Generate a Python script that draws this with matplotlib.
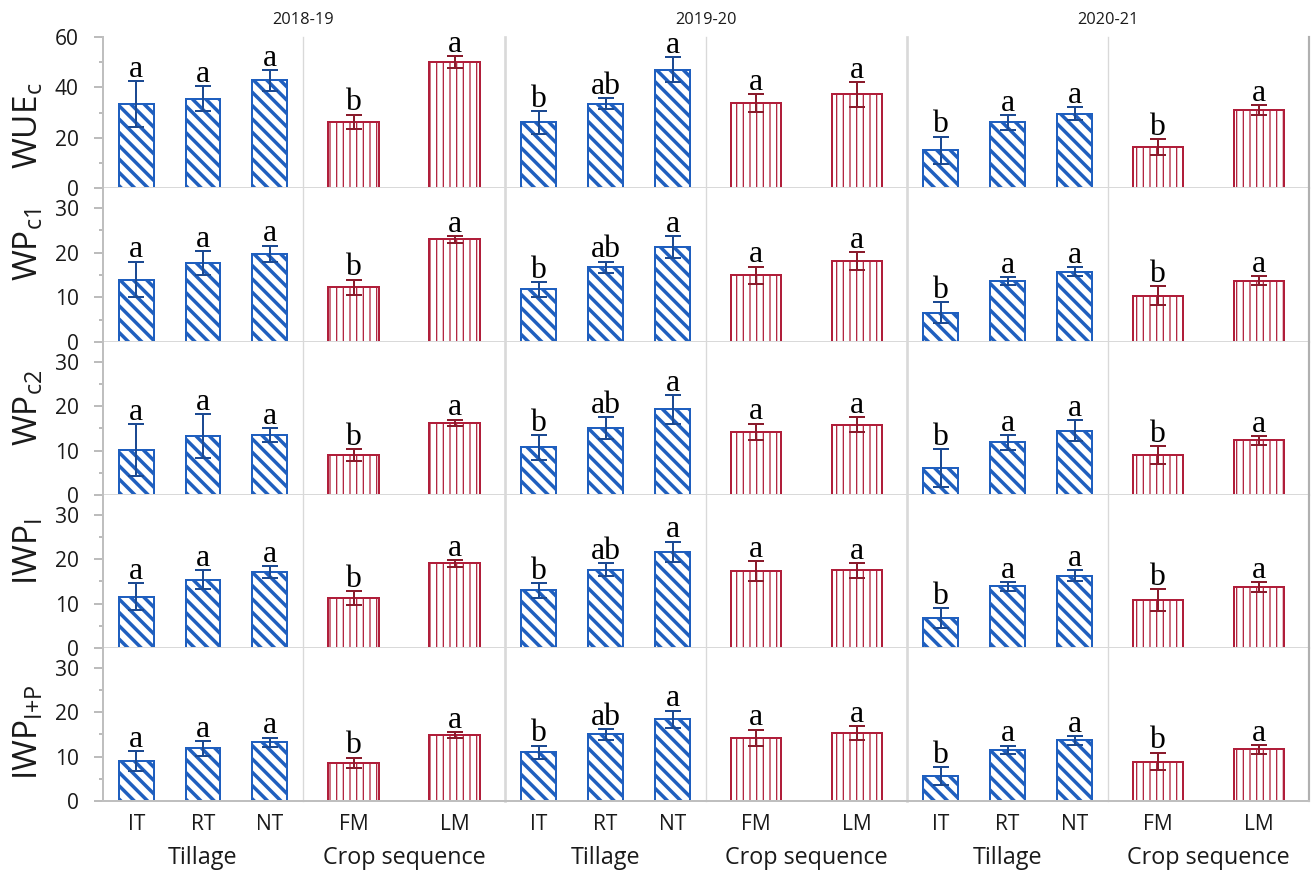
import matplotlib
matplotlib.use("Agg")
from matplotlib import pyplot as plt
from matplotlib.ticker import MultipleLocator

plt.rcParams['font.family'] = ['Open Sans', 'DejaVu Sans']

years = ['2018-19', '2019-20', '2020-21']
tillage = ['IT', 'RT', 'NT']
crop_seq = ['FM', 'LM']
row_labels = ['WUE$_\\mathregular{c}$', 'WP$_\\mathregular{c1}$', 'WP$_\\mathregular{c2}$',
              'IWP$_\\mathregular{I}$', 'IWP$_\\mathregular{I{+}P}$']

# per season: IT, RT, NT, FM, LM
wue_c = [[33.4, 35.5, 42.8, 26.4, 50.0],
         [26.1, 33.5, 47.0, 33.8, 37.2],
         [15.0, 26.1, 29.5, 16.3, 31.0]]
wue_c_err = [[9.0, 5.1, 4.1, 2.8, 2.3],
             [4.5, 2.2, 5.0, 3.6, 5.0],
             [5.4, 2.9, 2.5, 3.2, 2.0]]

wp_c1 = [[14.0, 17.7, 19.8, 12.3, 23.0],
         [11.8, 16.7, 21.3, 15.0, 18.1],
         [6.6, 13.7, 15.7, 10.4, 13.7]]
wp_c1_err = [[4.0, 2.7, 1.8, 1.7, 0.8],
             [1.7, 1.3, 2.4, 1.9, 2.0],
             [2.3, 0.9, 1.0, 2.2, 1.0]]

wp_c2 = [[10.1, 13.3, 13.5, 9.0, 16.3],
         [10.8, 15.1, 19.3, 14.3, 15.8],
         [6.0, 11.9, 14.5, 9.1, 12.3]]
wp_c2_err = [[5.9, 5.0, 1.5, 1.3, 0.7],
             [2.8, 2.4, 3.2, 1.8, 1.7],
             [4.3, 1.7, 2.3, 2.0, 1.0]]

iwp_i = [[11.6, 15.4, 17.1, 11.2, 19.1],
         [13.0, 17.7, 21.7, 17.4, 17.5],
         [6.7, 13.9, 16.3, 10.8, 13.7]]
iwp_i_err = [[3.0, 2.2, 1.3, 1.6, 0.8],
             [1.7, 1.5, 2.3, 2.2, 1.7],
             [2.3, 1.0, 1.2, 2.4, 1.1]]

iwp_ip = [[9.0, 11.9, 13.2, 8.6, 14.9],
          [11.0, 15.0, 18.4, 14.3, 15.3],
          [5.7, 11.6, 13.7, 8.9, 11.7]]
iwp_ip_err = [[2.3, 1.7, 1.1, 1.2, 0.6],
              [1.5, 1.2, 2.0, 1.8, 1.6],
              [2.0, 0.9, 1.0, 2.0, 1.0]]

# mean separation letters, same in every panel row
letters = [['a', 'a', 'a', 'b', 'a'],
           ['b', 'ab', 'a', 'a', 'a'],
           ['b', 'a', 'a', 'b', 'a']]

BLUE = '#1f5fbf'
BLUE_ERR = '#1c4a92'
RED = '#b01e3a'
RED_ERR = '#8a1b2c'
GRID = '#d9d9d9'
AXIS = '#bfbfbf'

rows = [(wue_c, wue_c_err), (wp_c1, wp_c1_err), (wp_c2, wp_c2_err),
        (iwp_i, iwp_i_err), (iwp_ip, iwp_ip_err)]
ytop = [60, 34.5, 34.5, 34.5, 34.5]
ystep = [20, 10, 10, 10, 10]
label_y = [126, 245, 408, 552, 732]


def draw_group(ax, names, means, errs, labs, color, ecolor, hatch, hlw, width):
    x = list(range(len(names)))
    with plt.rc_context({'hatch.linewidth': hlw}):
        bars = ax.bar(x, means, width, color='white', edgecolor=color,
                      hatch=hatch, linewidth=1.2, zorder=2)
    for b in bars:
        if hasattr(b, 'set_hatch_linewidth'):
            b.set_hatch_linewidth(hlw)
    ax.errorbar(x, means, yerr=errs, fmt='none', ecolor=ecolor,
                elinewidth=1.2, capsize=5, capthick=1.2, zorder=3)
    for xi, m, e, t in zip(x, means, errs, labs):
        ax.annotate(t, (xi, m + e), xytext=(0, 2.5), textcoords='offset points',
                    ha='center', va='baseline', family='Liberation Serif',
                    fontsize=19, color='black')
    ax.set_xlim(-0.5, len(names) - 0.5)
    ax.set_xticks(x)
    ax.set_xticklabels(names)


fig = plt.figure(figsize=(1311 / 120, 874 / 120), dpi=120)
gs = fig.add_gridspec(5, 6, left=103 / 1311, right=1309 / 1311,
                      top=1 - 37 / 874, bottom=1 - 801 / 874,
                      wspace=0, hspace=0,
                      width_ratios=[200, 202, 201, 201, 201, 201],
                      height_ratios=[151, 154, 153, 153, 153])

for r, (vals, errs) in enumerate(rows):
    for yi in range(3):
        for part in range(2):
            c = 2 * yi + part
            ax = fig.add_subplot(gs[r, c])
            if part == 0:
                draw_group(ax, tillage, vals[yi][:3], errs[yi][:3], letters[yi][:3],
                           BLUE, BLUE_ERR, '\\\\\\', 2.1, 0.52)
            else:
                draw_group(ax, crop_seq, vals[yi][3:], errs[yi][3:], letters[yi][3:],
                           RED, RED_ERR, '|||', 0.75, 0.5)
            ax.set_ylim(0, ytop[r])
            ax.yaxis.set_major_locator(MultipleLocator(ystep[r]))
            ax.yaxis.set_minor_locator(MultipleLocator(ystep[r] / 2))

            ax.spines['top'].set_visible(False)
            ax.spines['bottom'].set_color(AXIS if r == 4 else GRID)
            ax.spines['bottom'].set_linewidth(1.2)
            if c == 5:
                ax.spines['right'].set_color('#b0b0b0')
                ax.spines['right'].set_linewidth(1.3)
            else:
                ax.spines['right'].set_visible(False)
            if c == 0:
                ax.spines['left'].set_color(AXIS)
                ax.spines['left'].set_linewidth(1.2)
                ax.tick_params(axis='y', which='major', length=5.5, width=0.9,
                               color='#a6a6a6', pad=9, labelsize=12.6,
                               labelcolor='#1a1a1a')
                ax.tick_params(axis='y', which='minor', length=2.5, width=0.9,
                               color='#a6a6a6')
            else:
                ax.spines['left'].set_color(GRID)
                ax.spines['left'].set_linewidth(1.6 if part == 0 else 0.8)
                ax.tick_params(axis='y', which='both', left=False, labelleft=False)

            if r == 4:
                ax.tick_params(axis='x', length=0, pad=8, labelsize=12.6,
                               labelcolor='#1a1a1a')
                ax.text(0.5, -0.37, 'Tillage' if part == 0 else 'Crop sequence',
                        transform=ax.transAxes, ha='center', va='center',
                        fontsize=14, color='#1a1a1a')
            else:
                ax.tick_params(axis='x', length=0, labelbottom=False)

            if r == 0 and part == 0:
                ax.text(1.0, 1.11, years[yi], transform=ax.transAxes,
                        ha='center', va='center', fontsize=9.8, color='#1a1a1a')

    fig.text(28 / 1311, 1 - label_y[r] / 874, row_labels[r], rotation=90,
             ha='center', va='center', fontsize=20, color='#1a1a1a')

fig.savefig('out.png', dpi=120)
